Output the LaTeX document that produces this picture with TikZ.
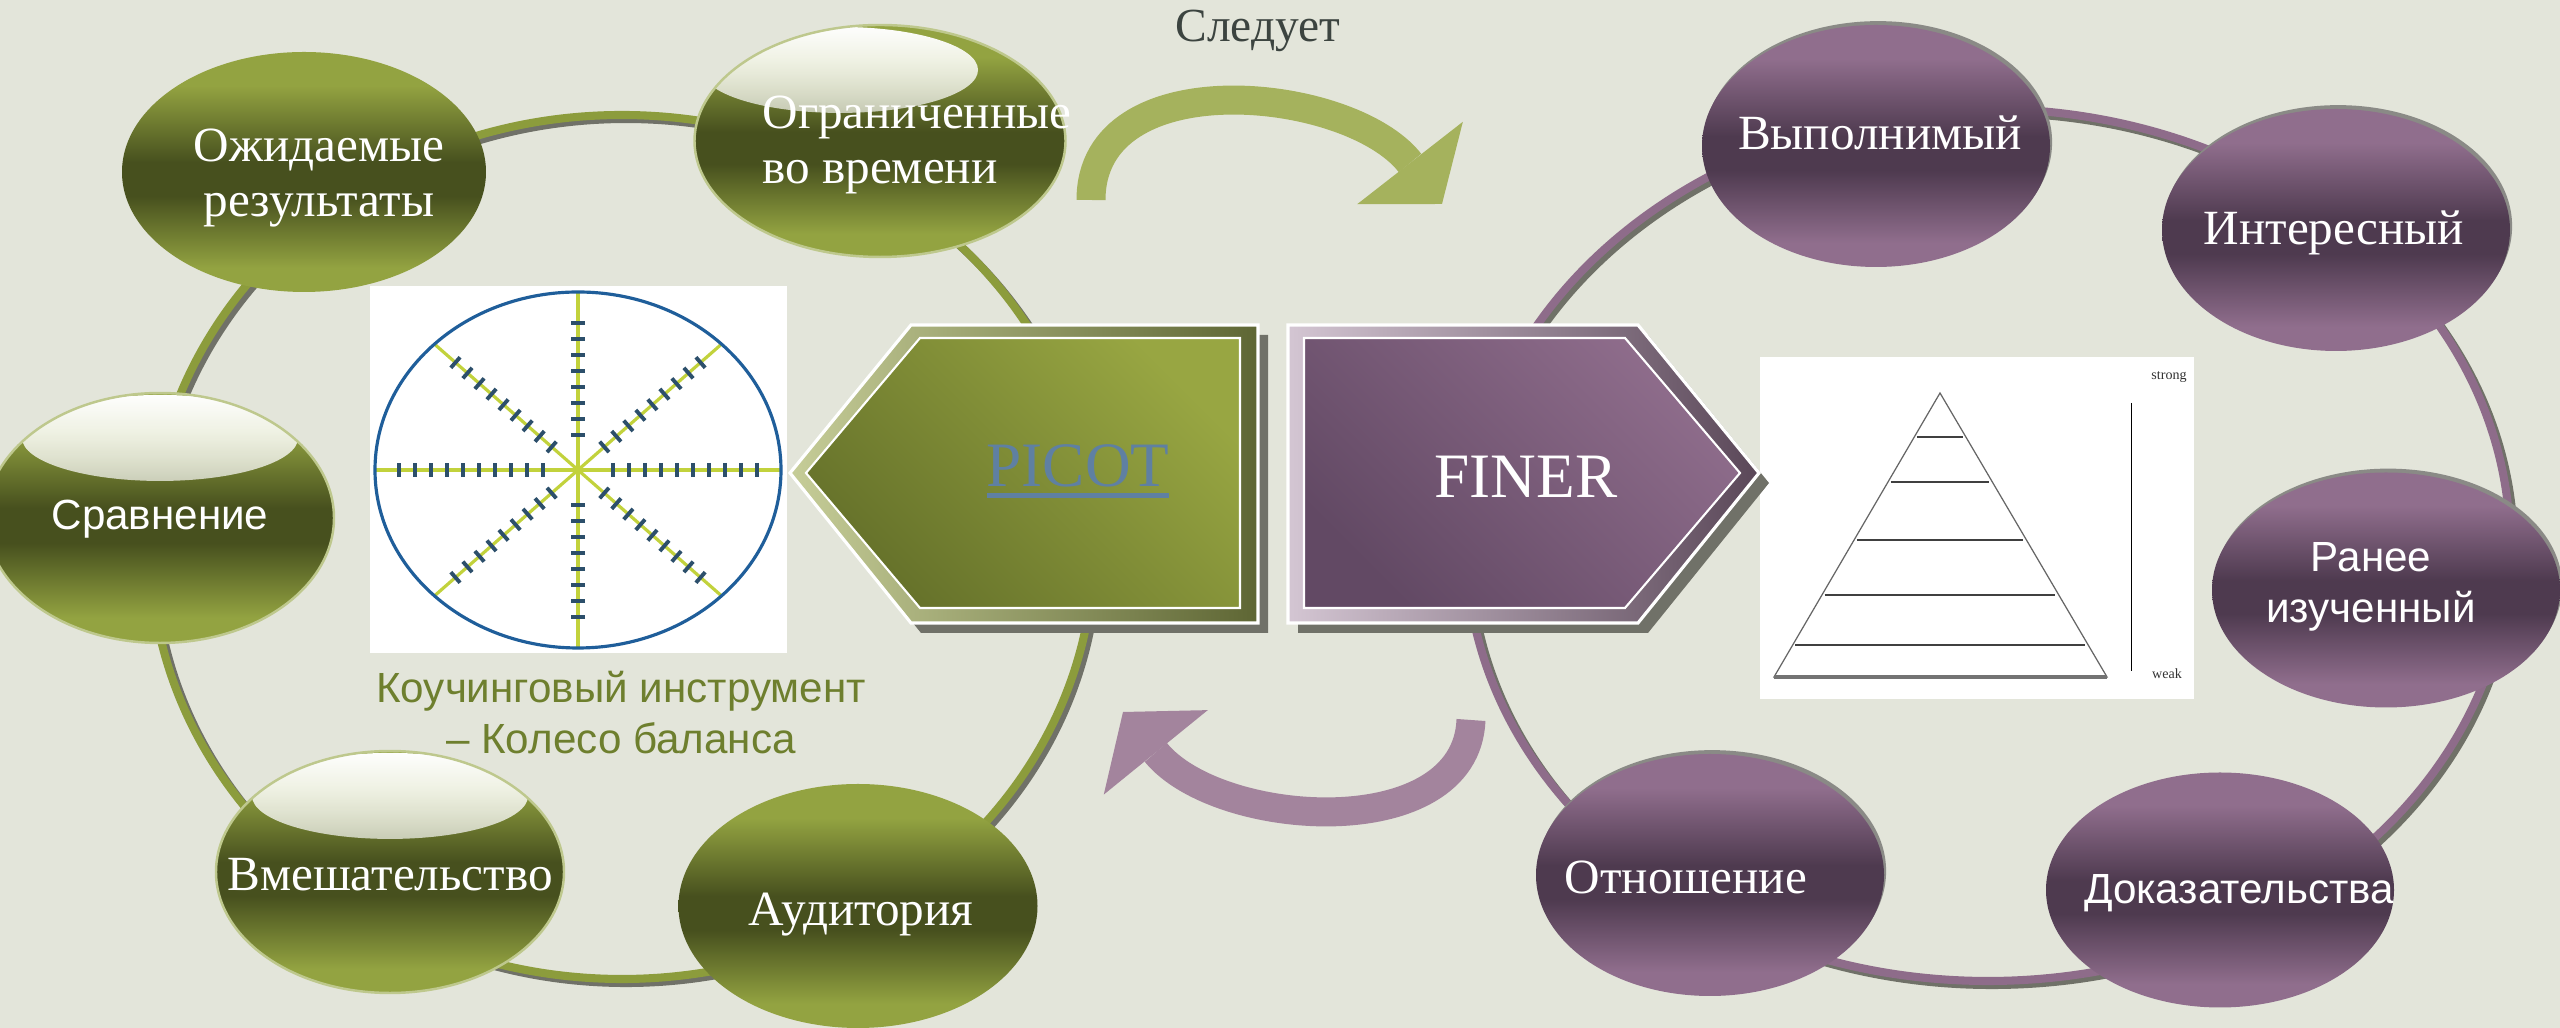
\documentclass[tikz,border=0pt]{standalone}
\usepackage{fontspec}
\setmainfont{Liberation Serif}
\setsansfont{Liberation Sans}
\usepackage{xcolor}
\usepackage{tikz}
\usetikzlibrary{arrows.meta,shapes.geometric,fadings}

\definecolor{bg}{HTML}{E3E5DA}
\definecolor{olivelight}{HTML}{93A341}
\definecolor{olivedark}{HTML}{47501E}
\definecolor{plumlight}{HTML}{906E8D}
\definecolor{plumdark}{HTML}{4E3A4F}
\definecolor{greenring}{HTML}{8C9C3C}
\definecolor{plumring}{HTML}{8E6C8A}
\definecolor{ringshade}{HTML}{707168}
\definecolor{rimgrey}{HTML}{8A8A86}
\definecolor{arrowgreen}{HTML}{A5B25D}
\definecolor{arrowplum}{HTML}{A3849D}
\definecolor{wheelblue}{HTML}{1F5E9A}
\definecolor{spokegreen}{HTML}{C2D23C}
\definecolor{tickblue}{HTML}{2C4F6B}
\definecolor{captiongreen}{HTML}{6E7F2E}
\definecolor{picotblue}{HTML}{5F80A2}
\definecolor{followgrey}{HTML}{3C4440}
\definecolor{picotband}{HTML}{C6CD98}
\definecolor{picotbanddark}{HTML}{5E6634}
\definecolor{picotlight}{HTML}{98A642}
\definecolor{picotdark}{HTML}{65712A}
\definecolor{finerband}{HTML}{D4C6D3}
\definecolor{finerbanddark}{HTML}{5A4758}
\definecolor{finerlight}{HTML}{8F6D8C}
\definecolor{finerdark}{HTML}{624964}

\pgfdeclareverticalshading{olivegloss}{100bp}{color(0bp)=(olivelight); color(30bp)=(olivelight); color(45bp)=(olivedark); color(52bp)=(olivedark); color(68bp)=(olivelight); color(100bp)=(olivelight)}
\pgfdeclareverticalshading{plumgloss}{100bp}{color(0bp)=(plumlight); color(30bp)=(plumlight); color(45bp)=(plumdark); color(52bp)=(plumdark); color(68bp)=(plumlight); color(100bp)=(plumlight)}
\tikzfading[name=glossfade, top color=transparent!0, bottom color=transparent!92]

% underline with a heavier rule
\newcommand{\heavyul}[1]{\setbox0\hbox{#1}\rlap{\rule[-3pt]{\wd0}{1.2pt}}\box0}

\begin{document}
\begin{tikzpicture}[x=0.1mm, y=-0.1mm,
  ball/.style={ellipse, minimum width=3.48cm, minimum height=2.42cm, inner sep=0pt},
  greenball/.style={ball, shade, shading=olivegloss},
  plumball/.style={ball, shade, shading=plumgloss},
  rimmed/.style={preaction={fill=rimgrey, transform canvas={xshift=0.6pt, yshift=1.1pt}}},
  glossy/.style={draw=olivelight!60!white, line width=0.7pt,
    path picture={\fill[white, path fading=glossfade]
      ([xshift=#1, yshift=-0.45cm]path picture bounding box.north) ellipse [x radius=1.38cm, y radius=0.43cm];}},
  glossy/.default=0cm,
  serlbl/.style={text=white, align=center, font=\fontsize{14}{15.8}\selectfont},
  sanlbl/.style={text=white, align=center, font=\sffamily\fontsize{12}{14.5}\selectfont},
  loopshadow/.style={draw=ringshade, line width=2.3pt},
  greenloop/.style={draw=greenring, line width=2.3pt},
  plumloop/.style={draw=plumring, line width=2.3pt},
  spoke/.style={spokegreen, line width=0.9pt},
  wtick/.style={tickblue, line width=1.1pt},
  rung/.style={black!75, line width=0.6pt},
  tinylbl/.style={font=\fontsize{4}{5}\selectfont, text=black!80, inner sep=0pt},
  bigarrow/.style={line width=0.29cm, -{Triangle[width=1.34cm, length=0.52cm, line width=0pt]}}
]
  % Background
  \fill[bg] (0,0) rectangle (2560,1028);
  \useasboundingbox (0,0) rectangle (2560,1028);

  % Rings
  \coordinate (lring) at (622,547);
  \coordinate (rring) at (1988,545);
  \draw[loopshadow] (lring) ++(4,4) ellipse [x radius=472, y radius=432];
  \draw[greenloop] (lring) ellipse [x radius=472, y radius=432];
  \draw[loopshadow] (rring) ++(4,4) ellipse [x radius=522, y radius=436];
  \draw[plumloop] (rring) ellipse [x radius=522, y radius=436];

  % PICOT bubbles
  \node[greenball, minimum width=3.64cm, minimum height=2.4cm] (expect) at (304,172) {};
  \node[greenball, glossy=-0.4cm, minimum width=3.71cm, minimum height=2.32cm] (limited) at (880,141) {};
  \node[greenball, glossy, minimum height=2.5cm] (cmp) at (160,518) {};
  \node[greenball, glossy] (interv) at (390,872) {};
  \node[greenball, minimum width=3.59cm, minimum height=2.44cm] (aud) at (858,906) {};

  % FINER bubbles
  \node[plumball, rimmed] (feas) at (1876,146) {};
  \node[plumball, rimmed] (inter) at (2336,230) {};
  \node[plumball, rimmed, minimum height=2.35cm] (prior) at (2386,590) {};
  \node[plumball, minimum height=2.35cm] (evid) at (2220,890) {};
  \node[plumball, rimmed] (rel) at (1710,875) {};

  % Wheel of balance
  \fill[white] (370,286) rectangle (787,653);
  \coordinate (wheel) at (578,470);
  \foreach \a in {0,45,...,315} {
    \pgfmathsetmacro\ang{atan2(178*sin(\a),203*cos(\a))}
    \pgfmathsetmacro\len{veclen(203*cos(\a),178*sin(\a))}
    \pgfmathtruncatemacro\n{(\len-55)/16}
    \begin{scope}[shift={(wheel)}, rotate=\ang]
      \draw[spoke] (0,0) -- (\len,0);
      \foreach \k in {0,...,\n}
        \draw[wtick] ({35+16*\k},-7) -- ({35+16*\k},7);
    \end{scope}
  }
  \draw[wheelblue, line width=0.9pt] (wheel) ellipse [x radius=203, y radius=178];

  % Pyramid
  \fill[white] (1760,357) rectangle (2194,699);
  \draw[black!60, line width=0.35pt] (1940,393) -- (1774,677) -- (2107,677) -- cycle;
  \draw[black!55, line width=0.9pt] (1774,677) -- (2107,677);
  \foreach \yy in {437,482,540,595,645}
    \draw[rung] ({1940-(\yy-393)*0.586+3},\yy) -- ({1940+(\yy-393)*0.586-3},\yy);
  \draw[black, line width=0.25pt] (2131,403) -- (2131,671);
  \node[tinylbl, anchor=base] (strong) at (2169,380) {strong};
  \node[tinylbl, anchor=base] (weak) at (2167,679) {weak};

  % PICOT block
  \fill[ringshade, shift={(10,10)}] (790,473) -- (911,325) -- (1258,325) -- (1258,623) -- (911,623) -- cycle;
  \filldraw[draw=white, line width=0.9pt, left color=picotband, right color=picotbanddark]
    (790,473) -- (911,325) -- (1258,325) -- (1258,623) -- (911,623) -- cycle;
  \filldraw[draw=white, line width=0.6pt, top color=picotlight, bottom color=picotdark, shading angle=-45]
    (806,473) -- (920,338) -- (1240,338) -- (1240,608) -- (920,608) -- cycle;

  % FINER block
  \fill[ringshade, shift={(10,10)}] (1288,325) -- (1638,325) -- (1759,473) -- (1638,623) -- (1288,623) -- cycle;
  \filldraw[draw=white, line width=0.9pt, left color=finerband, right color=finerbanddark]
    (1288,325) -- (1638,325) -- (1759,473) -- (1638,623) -- (1288,623) -- cycle;
  \filldraw[draw=white, line width=0.6pt, top color=finerlight, bottom color=finerdark, shading angle=-45]
    (1304,338) -- (1625,338) -- (1740,473) -- (1625,608) -- (1304,608) -- cycle;

  % Curved arrows
  \coordinate (gstart) at (1091,200);
  \coordinate (gtip) at (1442,204);
  \coordinate (pstart) at (1471,720);
  \coordinate (ptip) at (1123,712);
  \draw[bigarrow, arrowgreen] (gstart) .. controls (1091,60) and (1350,86) .. (gtip);
  \draw[bigarrow, arrowplum] (pstart) .. controls (1466,845) and (1218,829) .. (ptip);

  % Labels
  \node[font=\fontsize{13.5}{15}\selectfont, text=followgrey, anchor=base] (follows) at (1258,42) {Следует};
  \node[font=\fontsize{18}{20}\selectfont, text=picotblue, anchor=base] (picot) at (1078,487) {\heavyul{PICOT}};
  \node[font=\fontsize{18}{20}\selectfont, text=white, anchor=base] (finer) at (1526,498) {FINER};
  \node[font=\sffamily\fontsize{12}{14.5}\selectfont, text=captiongreen, align=center] (wheelcap) at (621,713)
    {Коучинговый инструмент\\– Колесо баланса};

  \node[serlbl] (expect-t) at (319,178) {Ожидаемые\\результаты};
  \node[serlbl, align=left] (limited-t) at (917,145) {Ограниченные\\во времени};
  \node[sanlbl, anchor=base] (cmp-t) at (160,530) {Сравнение};
  \node[serlbl, anchor=base] (interv-t) at (390,891) {Вмешательство};
  \node[serlbl, anchor=base] (aud-t) at (861,926) {Аудитория};
  \node[serlbl, anchor=base] (feas-t) at (1880,150) {Выполнимый};
  \node[serlbl, anchor=base] (inter-t) at (2334,245) {Интересный};
  \node[sanlbl] (prior-t) at (2371,587) {Ранее\\изученный};
  \node[sanlbl, anchor=base] (evid-t) at (2239,904) {Доказательства};
  \node[serlbl, anchor=base] (rel-t) at (1686,894) {Отношение};
\end{tikzpicture}
\end{document}
